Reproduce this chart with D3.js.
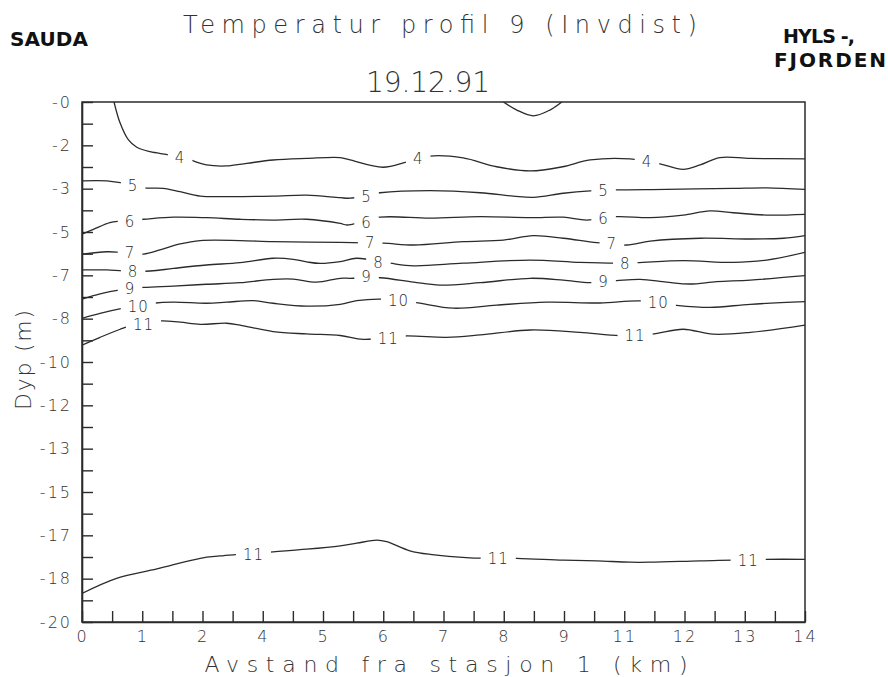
<!DOCTYPE html>
<html><head><meta charset="utf-8">
<script src="https://cdn.jsdelivr.net/npm/d3@7"></script>
<style>body{margin:0;background:#fff}</style>
</head><body><svg id="c" width="888" height="677"></svg>
<script>
// ---- data ----
const xTickLabels = ["0","1","2","4","5","6","7","8","9","11","12","13","14"];
const yTickLabels = ["-0","-2","-3","-5","-7","-8","-10","-12","-13","-15","-17","-18","-20"];
const xMax = 14, yMin = -20;

// contour lines as [distance km, depth m]
const contour4 = [[0.62,0],[0.74,-0.82],[0.90,-1.46],[1.06,-1.74],[1.32,-1.91],[1.70,-2.04],[2.09,-2.23],[2.41,-2.42],[2.80,-2.46],[3.19,-2.36],[3.70,-2.23],[4.35,-2.17],[5.00,-2.14],[5.19,-2.23],[5.83,-2.51],[6.30,-2.30],[6.74,-2.08],[7.38,-2.15],[8.03,-2.49],[8.68,-2.65],[9.31,-2.49],[9.84,-2.23],[10.61,-2.19],[11.19,-2.38],[11.64,-2.59],[11.97,-2.42],[12.35,-2.14],[12.94,-2.17],[14.0,-2.19]];
const contour4top = [[8.16,0],[8.42,-0.31],[8.74,-0.53],[9.06,-0.31],[9.29,0]];
const contour5 = [[0,-3.03],[0.48,-3.03],[0.74,-3.10],[1.19,-3.30],[1.57,-3.32],[1.90,-3.45],[2.29,-3.62],[2.80,-3.64],[3.70,-3.62],[4.35,-3.58],[5.00,-3.68],[5.19,-3.70],[5.77,-3.49],[6.74,-3.41],[7.71,-3.49],[8.35,-3.62],[8.74,-3.67],[9.32,-3.51],[9.84,-3.42],[10.35,-3.38],[11.32,-3.36],[12.61,-3.32],[13.26,-3.30],[14.0,-3.36]];
const contour6 = [[0,-5.08],[0.22,-4.90],[0.54,-4.64],[0.74,-4.58],[1.19,-4.51],[1.77,-4.43],[2.41,-4.45],[3.06,-4.51],[3.70,-4.54],[4.35,-4.51],[5.00,-4.67],[5.13,-4.73],[5.77,-4.43],[6.74,-4.47],[7.71,-4.41],[8.68,-4.45],[9.32,-4.43],[9.77,-4.54],[10.35,-4.41],[11.00,-4.45],[11.64,-4.35],[12.16,-4.19],[12.61,-4.26],[13.26,-4.35],[14.0,-4.32]];
const contour7 = [[0,-5.85],[0.48,-5.76],[0.74,-5.78],[1.19,-5.85],[1.51,-5.69],[1.90,-5.46],[2.29,-5.33],[3.06,-5.33],[3.70,-5.37],[5.00,-5.40],[5.83,-5.43],[6.42,-5.50],[7.38,-5.37],[8.16,-5.31],[8.74,-5.14],[9.32,-5.24],[9.97,-5.41],[10.55,-5.50],[11.00,-5.35],[11.97,-5.24],[12.94,-5.27],[13.58,-5.24],[14.0,-5.14]];
const contour8 = [[0,-6.46],[0.48,-6.46],[0.80,-6.50],[1.32,-6.50],[1.77,-6.40],[2.41,-6.27],[3.06,-6.18],[3.70,-6.01],[4.09,-6.05],[4.35,-6.15],[4.61,-6.21],[5.00,-6.14],[5.32,-6.01],[5.96,-6.20],[6.42,-6.30],[7.38,-6.20],[8.68,-6.08],[9.64,-6.17],[10.35,-6.20],[10.74,-6.18],[11.64,-6.10],[12.61,-6.17],[13.26,-6.08],[14.0,-5.78]];
const contour9 = [[0,-7.58],[0.35,-7.38],[0.74,-7.23],[1.19,-7.13],[1.77,-7.08],[2.41,-7.01],[3.06,-6.95],[3.70,-6.82],[4.09,-6.81],[4.54,-6.93],[5.00,-6.78],[5.19,-6.78],[5.77,-6.76],[6.42,-6.93],[6.93,-7.04],[7.71,-6.95],[8.68,-6.78],[9.32,-6.85],[9.84,-6.95],[10.35,-6.87],[10.81,-6.82],[11.32,-6.93],[11.77,-7.00],[12.29,-6.91],[12.94,-6.85],[14.0,-6.68]];
const contour10 = [[0,-8.32],[0.35,-8.13],[0.80,-7.93],[1.38,-7.74],[1.77,-7.70],[2.41,-7.74],[2.80,-7.70],[3.32,-7.64],[3.70,-7.74],[4.35,-7.85],[5.00,-7.78],[5.32,-7.64],[5.77,-7.58],[6.42,-7.70],[7.19,-7.93],[8.03,-7.81],[9.00,-7.70],[10.03,-7.73],[10.81,-7.65],[11.45,-7.81],[12.16,-7.90],[12.94,-7.78],[14.0,-7.68]];
const contour11a = [[0,-9.35],[0.35,-9.05],[0.74,-8.74],[0.93,-8.62],[1.51,-8.42],[1.90,-8.47],[2.29,-8.55],[2.80,-8.51],[3.06,-8.58],[3.70,-8.83],[4.35,-8.92],[5.00,-8.98],[5.45,-9.13],[6.25,-9.00],[7.06,-9.05],[7.71,-8.96],[8.68,-8.77],[9.64,-8.86],[10.42,-8.99],[11.03,-8.93],[11.64,-8.74],[12.22,-8.93],[12.94,-8.86],[14.0,-8.58]];
const contour11b = [[0,-18.9],[0.67,-18.32],[1.45,-17.96],[2.29,-17.55],[2.67,-17.46],[3.70,-17.30],[4.35,-17.20],[5.00,-17.07],[5.32,-16.97],[5.71,-16.85],[5.90,-16.91],[6.35,-17.26],[6.74,-17.40],[7.51,-17.53],[8.42,-17.55],[9.32,-17.62],[9.97,-17.65],[10.61,-17.70],[11.00,-17.70],[11.97,-17.65],[13.23,-17.59],[14.0,-17.59]];
const contourLines = [contour4, contour4top, contour5, contour6, contour7, contour8, contour9, contour10, contour11a, contour11b];

// contour labels: [text, km, depth]
const contourLabels = [
  ["4",1.90,-2.15],["4",6.51,-2.19],["4",10.94,-2.30],
  ["5",0.99,-3.23],["5",5.51,-3.64],["5",10.10,-3.42],
  ["6",0.93,-4.60],["6",5.51,-4.63],["6",10.10,-4.47],
  ["7",0.93,-5.80],["7",5.58,-5.41],["7",10.26,-5.44],
  ["8",0.99,-6.53],["8",5.74,-6.17],["8",10.52,-6.20],
  ["9",0.93,-7.17],["9",5.51,-6.72],["9",10.10,-6.91],
  ["10",1.09,-7.87],["10",6.13,-7.64],["10",11.16,-7.72],
  ["11",1.19,-8.55],["11",5.93,-9.09],["11",10.71,-8.99],
  ["11",3.32,-17.40],["11",8.06,-17.58],["11",12.90,-17.62]
];

// ---- drawing ----
const svg = d3.select("#c");
const FONT = "'DejaVu Sans', sans-serif";
const ink = "#2b2b2b";
const m = {l:82, r:805, t:102, b:622};
const x = d3.scaleLinear([0, xMax], [m.l, m.r]);
const y = d3.scaleLinear([0, yMin], [m.t, m.b]);

svg.append("rect").attr("width",888).attr("height",677).attr("fill","#fff");

svg.append("clipPath").attr("id","clip").append("rect")
  .attr("x",m.l).attr("y",m.t).attr("width",m.r-m.l).attr("height",m.b-m.t);

const line = d3.line().x(d=>x(d[0])).y(d=>y(d[1])).curve(d3.curveCatmullRom.alpha(0.5));
const gL = svg.append("g").attr("clip-path","url(#clip)");
gL.selectAll("path.c").data(contourLines).join("path").attr("class","c")
  .attr("d", line).attr("fill","none").attr("stroke",ink).attr("stroke-width",1.3);

// labels with white knockout
const gT = svg.append("g");
contourLabels.forEach(([t,k,d])=>{
  const g = gT.append("g");
  const r = g.append("rect").attr("fill","#fff");
  const tx = g.append("text").attr("x",x(k)).attr("y",y(d)).attr("dy","0.36em")
    .attr("text-anchor","middle").attr("font-family",FONT).attr("font-size",15)
    .attr("font-weight",300).attr("fill",ink).attr("letter-spacing",1).text(t);
  const w = tx.node().getComputedTextLength();
  r.attr("x",x(k)-w/2-7).attr("y",y(d)-6).attr("width",w+14).attr("height",12);
});

// axes
const nx = (xTickLabels.length-1)*2, ny = (yTickLabels.length-1)*2;
const xAxis = d3.axisBottom(x).tickValues(d3.range(nx+1).map(i=>i*xMax/nx))
  .tickSize(-11).tickSizeOuter(0).tickPadding(9)
  .tickFormat(d=>{const i=Math.round(d*nx/xMax);return i%2===0?xTickLabels[i/2]:"";});
const yAxis = d3.axisLeft(y).tickValues(d3.range(ny+1).map(i=>i*yMin/ny))
  .tickSize(-11).tickSizeOuter(0).tickPadding(10)
  .tickFormat(d=>{const i=Math.round(d*ny/yMin);return i%2===0?yTickLabels[i/2]:"";});

const gx = svg.append("g").attr("transform",`translate(0,${m.b})`).call(xAxis);
const gy = svg.append("g").attr("transform",`translate(${m.l},0)`).call(yAxis);
[gx,gy].forEach(g=>{
  g.attr("font-family",FONT).attr("font-size",16).attr("font-weight",300);
  g.selectAll("line").attr("stroke",ink).attr("stroke-width",1.4);
  g.select(".domain").attr("stroke",ink).attr("stroke-width",1.6);
  g.selectAll("text").attr("fill","#333").attr("letter-spacing",2);
});

// frame
svg.append("rect").attr("x",m.l).attr("y",m.t).attr("width",m.r-m.l).attr("height",m.b-m.t)
  .attr("fill","none").attr("stroke",ink).attr("stroke-width",1.5);

// texts
function txt(s, xx, yy, size, opts={}) {
  const t = svg.append("text").attr("x",xx).attr("y",yy).attr("font-family",opts.family||FONT)
    .attr("font-size",size).attr("fill",opts.fill||"#333").attr("text-anchor",opts.anchor||"start")
    .attr("font-weight",opts.weight||200).text(s);
  if (opts.len) t.attr("textLength",opts.len).attr("lengthAdjust","spacing");
  if (opts.rot) t.attr("transform",`rotate(${opts.rot},${xx},${yy})`);
  return t;
}
txt("Temperatur profil 9 (Invdist)", 440, 33, 24, {anchor:"middle", len:514});
txt("19.12.91", 428, 92, 28, {anchor:"middle", len:124});
txt("SAUDA", 10, 46, 20, {weight:"bold", len:78, fill:"#111"});
txt("HYLS -,", 783, 43, 19, {weight:"bold", len:72, fill:"#111"});
txt("FJORDEN", 774, 67, 20, {weight:"bold", len:112, fill:"#111"});
txt("Dyp (m)", 31, 360, 22, {anchor:"middle", rot:-90, len:100});
txt("Avstand fra stasjon 1 (km)", 446, 672, 22, {anchor:"middle", len:483});
</script></body></html>
